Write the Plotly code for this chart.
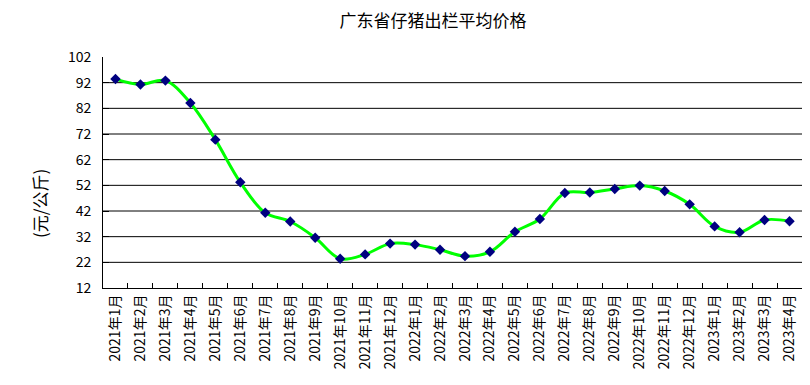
import plotly.graph_objects as go

months = ["2021年1月", "2021年2月", "2021年3月", "2021年4月", "2021年5月", "2021年6月",
          "2021年7月", "2021年8月", "2021年9月", "2021年10月", "2021年11月", "2021年12月",
          "2022年1月", "2022年2月", "2022年3月", "2022年4月", "2022年5月", "2022年6月",
          "2022年7月", "2022年8月", "2022年9月", "2022年10月", "2022年11月", "2022年12月",
          "2023年1月", "2023年2月", "2023年3月", "2023年4月"]
prices = [93.4, 91.3, 92.8, 84.1, 69.8, 53.2,
          41.3, 37.9, 31.6, 23.4, 25.1, 29.3,
          28.9, 26.9, 24.4, 26.1, 33.9, 38.9,
          49.0, 49.2, 50.6, 51.9, 49.8, 44.6,
          36.0, 33.7, 38.5, 38.0]
y_ticks = [12, 22, 32, 42, 52, 62, 72, 82, 92, 102]
grid_vals = [22, 32, 42, 52, 62, 72, 82, 92]

FONT = "Noto Sans CJK SC"

fig = go.Figure()
fig.add_trace(go.Scatter(
    x=months, y=prices, mode="lines+markers",
    line=dict(color="#00FF00", width=3, shape="spline", smoothing=1),
    marker=dict(symbol="diamond", size=8, color="#000080"),
    showlegend=False,
))

shapes = [dict(type="line", xref="paper", yref="y", x0=0, x1=1, y0=g, y1=g,
               line=dict(color="black", width=1), layer="below") for g in grid_vals]

fig.update_layout(
    width=802, height=377,
    margin=dict(l=95, r=8, t=49, b=97),
    paper_bgcolor="white", plot_bgcolor="white",
    font=dict(family=FONT, size=12, color="black"),
    title=dict(text="广东省仔猪出栏平均价格", x=0.53, xanchor="center",
               y=0.965, yanchor="middle", font=dict(family=FONT, size=17, color="black")),
    shapes=shapes,
    annotations=[dict(text="(元/公斤)", xref="paper", yref="paper", x=-0.09, y=0.364,
                      xanchor="center", yanchor="middle", textangle=-90, showarrow=False,
                      font=dict(family=FONT, size=17, color="black"))],
)
fig.update_xaxes(
    type="category", showline=True, linecolor="black", linewidth=1,
    ticks="inside", ticklen=5, tickcolor="black", tickson="boundaries",
    tickangle=-90, showgrid=False, range=[-0.5, 27.5],
    tickfont=dict(family=FONT, size=14),
)
fig.update_yaxes(
    range=[12, 102], tickvals=y_ticks, showline=True, linecolor="black", linewidth=1,
    ticks="inside", ticklen=6, tickcolor="black", showgrid=False, zeroline=False,
    ticklabelstandoff=8, tickfont=dict(family=FONT, size=14),
)

fig.write_html("out.html")
